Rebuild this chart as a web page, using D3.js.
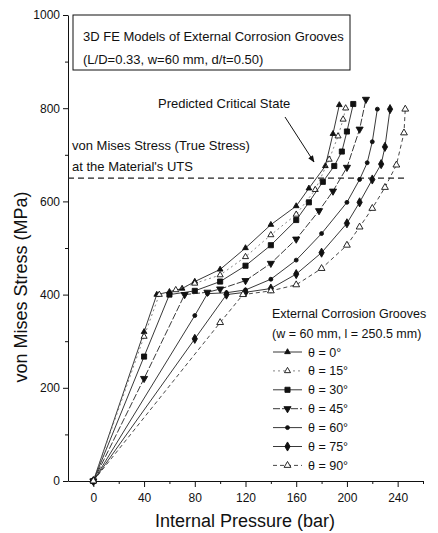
<!DOCTYPE html>
<html><head><meta charset="utf-8">
<script src="https://cdn.jsdelivr.net/npm/d3@7"></script>
<style>
body{margin:0;background:#fff;}
svg{display:block;font-family:"Liberation Sans",Arial,Helvetica,sans-serif;}
</style></head>
<body><svg id="chart" width="438" height="533"></svg>
<script>
// ---- data (pressure in bar, von Mises stress in MPa) ----
const xTicks = [0, 40, 80, 120, 160, 200, 240];
const yTicks = [0, 200, 400, 600, 800, 1000];
const utsStress = 650;
const theta0  = [[0,0],[40,320],[50,400],[60,406],[70,413],[80,428],[100,454],[120,500],[140,550],[160,590],[170,628],[183,676],[189,745],[194,807]];
const theta15 = [[0,0],[40,310],[52,400],[65,410],[80,424],[100,442],[120,481],[140,528],[160,572],[175,625],[186,690],[193,740],[197,776],[199,800]];
const theta30 = [[0,0],[40,267],[60,400],[80,408],[100,428],[120,462],[140,506],[160,560],[170,598],[181,642],[190,676],[196,707],[200,750],[205,809]];
const theta45 = [[0,0],[40,220],[72,400],[90,405],[100,412],[120,430],[140,467],[160,519],[178,580],[189,622],[200,673],[210,755],[215,819]];
const theta60 = [[0,0],[80,355],[90,402],[105,404],[120,410],[140,433],[160,474],[180,531],[200,598],[210,647],[216,683],[220,728],[224,798]];
const theta75 = [[0,0],[80,305],[105,400],[120,405],[140,413],[160,444],[180,490],[200,553],[210,598],[220,647],[227,680],[230,717],[234,798]];
const theta90 = [[0,0],[100,340],[118,400],[140,408],[160,421],[180,456],[200,506],[210,545],[220,585],[230,630],[239,678],[245,747],[246,798]];
const seriesLabels = ["\u03B8  = 0\u00B0","\u03B8  = 15\u00B0","\u03B8  = 30\u00B0","\u03B8  = 45\u00B0","\u03B8  = 60\u00B0","\u03B8  = 75\u00B0","\u03B8  = 90\u00B0"];

const series = [
  {data: theta0,  sym: d3.symbolTriangle, size: 14, fill: "#111", dash: null, stroke:"#222"},
  {data: theta15, sym: d3.symbolTriangle, size: 16, fill: "#fff", dash: "2,3", stroke:"#777"},
  {data: theta30, sym: d3.symbolSquare,   size: 26, fill: "#111", dash: null, stroke:"#222"},
  {data: theta45, sym: d3.symbolTriangle, size: 22, fill: "#111", dash: "7,2", stroke:"#222", rot:180},
  {data: theta60, sym: d3.symbolCircle,   size: 12, fill: "#111", dash: null, stroke:"#222"},
  {data: theta75, sym: d3.symbolDiamond,  size: 24, fill: "#111", dash: null, stroke:"#222"},
  {data: theta90, sym: d3.symbolTriangle, size: 20, fill: "#fff", dash: "4,3", stroke:"#333"}
];

const svg = d3.select("#chart");
const x = d3.scaleLinear().domain([-20, 260]).range([68, 423]);
const y = d3.scaleLinear().domain([0, 1000]).range([481, 15]);

// axes
svg.append("g").attr("transform", "translate(0,481)")
  .call(d3.axisBottom(x).tickValues(xTicks).tickSize(6).tickPadding(6).tickSizeOuter(0).tickFormat(d3.format("d")));
svg.append("g").attr("transform", "translate(0,481)")
  .call(d3.axisBottom(x).tickValues([20,60,100,140,180,220,260]).tickSize(3).tickFormat("").tickSizeOuter(0))
  .select(".domain").remove();
svg.append("g").attr("transform", "translate(68,0)")
  .call(d3.axisLeft(y).tickValues(yTicks).tickSize(5).tickPadding(3).tickSizeOuter(0).tickFormat(d3.format("d")));
svg.append("g").attr("transform", "translate(68,0)")
  .call(d3.axisLeft(y).tickValues([100,300,500,700,900]).tickSize(3).tickFormat("").tickSizeOuter(0))
  .select(".domain").remove();
svg.selectAll(".tick text").attr("font-size", 12).attr("fill", "#111")
  .attr("font-family", "'Liberation Sans',Arial,sans-serif");
svg.selectAll(".domain, .tick line").attr("stroke", "#111");

// axis titles
svg.append("text").attr("x", 245).attr("y", 527).attr("text-anchor", "middle")
  .attr("font-size", 18).attr("fill", "#111").text("Internal Pressure (bar)");
svg.append("text").attr("transform", "translate(27,287) rotate(-90)").attr("text-anchor", "middle")
  .attr("font-size", 18).attr("fill", "#111").text("von Mises Stress (MPa)");

// UTS line
svg.append("line").attr("x1", x(-20)).attr("x2", x(248)).attr("y1", y(utsStress)).attr("y2", y(utsStress))
  .attr("stroke", "#222").attr("stroke-width", 1.2).attr("stroke-dasharray", "6,4");

// series lines & markers
const line = d3.line().x(d => x(d[0])).y(d => y(d[1]));
function drawMarker(g, s, px, py) {
  g.append("path").attr("d", d3.symbol().type(s.sym).size(s.size)())
    .attr("transform", `translate(${px},${py})` + (s.rot ? ` rotate(${s.rot})` : ""))
    .attr("fill", s.fill).attr("stroke", "#111").attr("stroke-width", 0.9);
}
series.forEach(s => {
  svg.append("path").datum(s.data).attr("d", line).attr("fill", "none")
    .attr("stroke", s.stroke).attr("stroke-width", 0.9)
    .attr("stroke-dasharray", s.dash);
  const g = svg.append("g");
  s.data.forEach(d => drawMarker(g, s, x(d[0]), y(d[1])));
});

// title box
svg.append("rect").attr("x", 73).attr("y", 15).attr("width", 277).attr("height", 55)
  .attr("fill", "#fff").attr("stroke", "#111").attr("stroke-width", 1);
svg.append("text").attr("x", 83).attr("y", 41).attr("font-size", 13).attr("fill", "#111")
  .text("3D FE Models of External Corrosion Grooves");
svg.append("text").attr("x", 83).attr("y", 64).attr("font-size", 13).attr("fill", "#111")
  .text("(L/D=0.33, w=60 mm, d/t=0.50)");

// annotations
svg.append("text").attr("x", 158).attr("y", 108).attr("font-size", 13).attr("fill", "#111")
  .text("Predicted Critical State");
svg.append("defs").append("marker").attr("id", "arr").attr("viewBox", "0 0 10 10")
  .attr("refX", 9).attr("refY", 5).attr("markerWidth", 7).attr("markerHeight", 7).attr("orient", "auto")
  .append("path").attr("d", "M0,1 L10,5 L0,9 Z").attr("fill", "#111");
svg.append("line").attr("x1", 285).attr("y1", 117).attr("x2", 314).attr("y2", 162)
  .attr("stroke", "#111").attr("stroke-width", 1).attr("marker-end", "url(#arr)");
svg.append("text").attr("x", 72).attr("y", 150).attr("font-size", 13).attr("fill", "#111")
  .text("von Mises Stress (True Stress)");
svg.append("text").attr("x", 72).attr("y", 171).attr("font-size", 13).attr("fill", "#111")
  .text("at the Material's UTS");

// legend
svg.append("text").attr("x", 272).attr("y", 318).attr("font-size", 12.5).attr("fill", "#111")
  .text("External Corrosion Grooves");
svg.append("text").attr("x", 272).attr("y", 338).attr("font-size", 12.5).attr("fill", "#111")
  .text("(w = 60 mm, l = 250.5 mm)");
series.forEach((s, i) => {
  const ly = 352 + i * 18.9;
  const g = svg.append("g");
  g.append("line").attr("x1", 273).attr("x2", 302).attr("y1", ly).attr("y2", ly)
    .attr("stroke", s.stroke).attr("stroke-width", 0.9).attr("stroke-dasharray", s.dash);
  drawMarker(g, s, 287.5, ly);
  g.append("text").attr("x", 308).attr("y", ly + 4.5).attr("font-size", 12.5).attr("fill", "#111")
    .text(seriesLabels[i]);
});
</script></body></html>
